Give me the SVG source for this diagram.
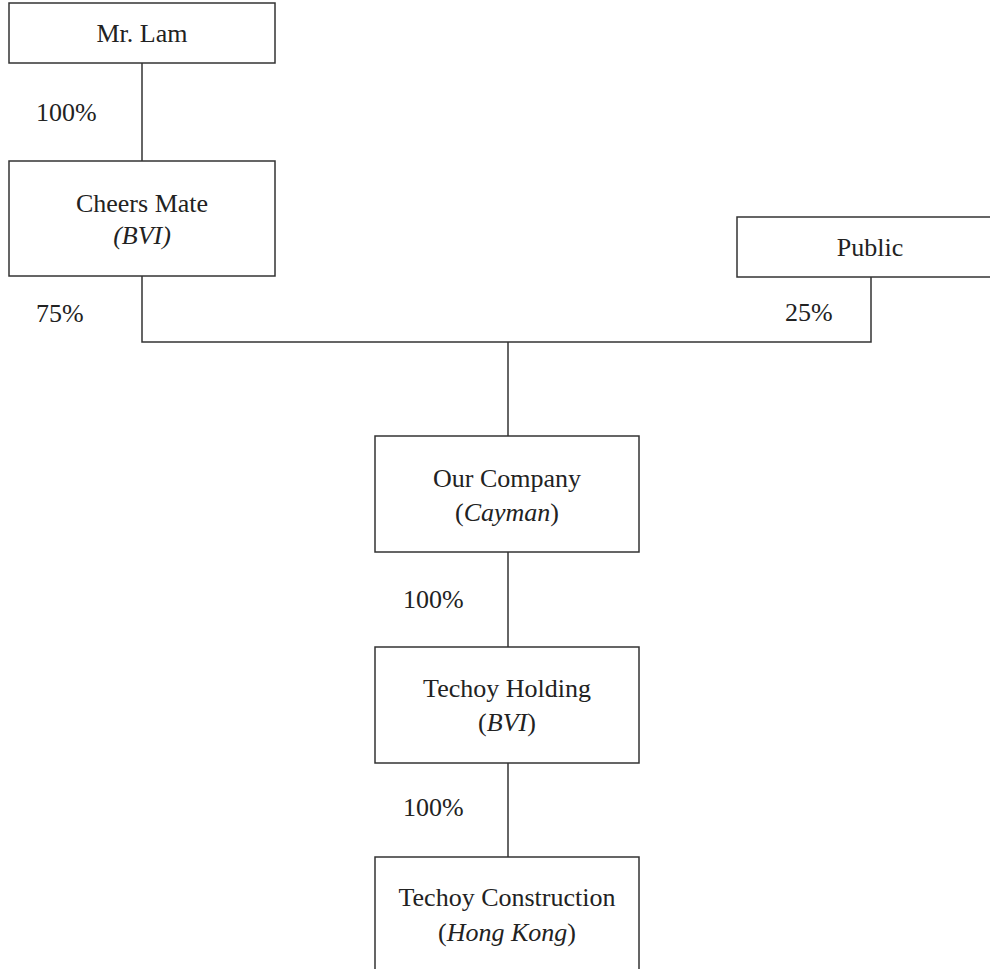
<svg xmlns="http://www.w3.org/2000/svg" width="990" height="969" viewBox="0 0 990 969">
<style>
.box{fill:#fff;stroke:#333;stroke-width:1.5}
.ln{fill:none;stroke:#333;stroke-width:1.5}
text{font-family:"Liberation Serif","Times New Roman",serif;font-size:26px;fill:#222}
.c{text-anchor:middle}
.i{font-style:italic}
</style>
<rect width="990" height="969" fill="#fff"/>
<g id="connectors">
<path class="ln" d="M142 63V161"/>
<path class="ln" d="M142 276V342H871V277"/>
<path class="ln" d="M508 342V436"/>
<path class="ln" d="M508 552V647"/>
<path class="ln" d="M508 763V857"/>
<text x="36" y="121">100%</text>
<text x="36" y="322">75%</text>
<text x="785" y="321">25%</text>
<text x="403" y="608">100%</text>
<text x="403" y="816">100%</text>
</g>
<g id="mr-lam">
<rect class="box" x="9" y="3" width="266" height="60"/>
<text class="c" x="142" y="42">Mr. Lam</text>
</g>
<g id="cheers-mate">
<rect class="box" x="9" y="161" width="266" height="115"/>
<text class="c" x="142" y="212">Cheers Mate</text>
<text class="c i" x="142" y="244">(BVI)</text>
</g>
<g id="public">
<rect class="box" x="737" y="217" width="270" height="60"/>
<text class="c" x="870" y="256">Public</text>
</g>
<g id="our-company">
<rect class="box" x="375" y="436" width="264" height="116"/>
<text class="c" x="507" y="487">Our Company</text>
<text class="c" x="507" y="521">(<tspan class="i">Cayman</tspan>)</text>
</g>
<g id="techoy-holding">
<rect class="box" x="375" y="647" width="264" height="116"/>
<text class="c" x="507" y="697">Techoy Holding</text>
<text class="c" x="507" y="731">(<tspan class="i">BVI</tspan>)</text>
</g>
<g id="techoy-construction">
<rect class="box" x="375" y="857" width="264" height="130"/>
<text class="c" x="507" y="906">Techoy Construction</text>
<text class="c" x="507" y="941">(<tspan class="i">Hong Kong</tspan>)</text>
</g>
</svg>
